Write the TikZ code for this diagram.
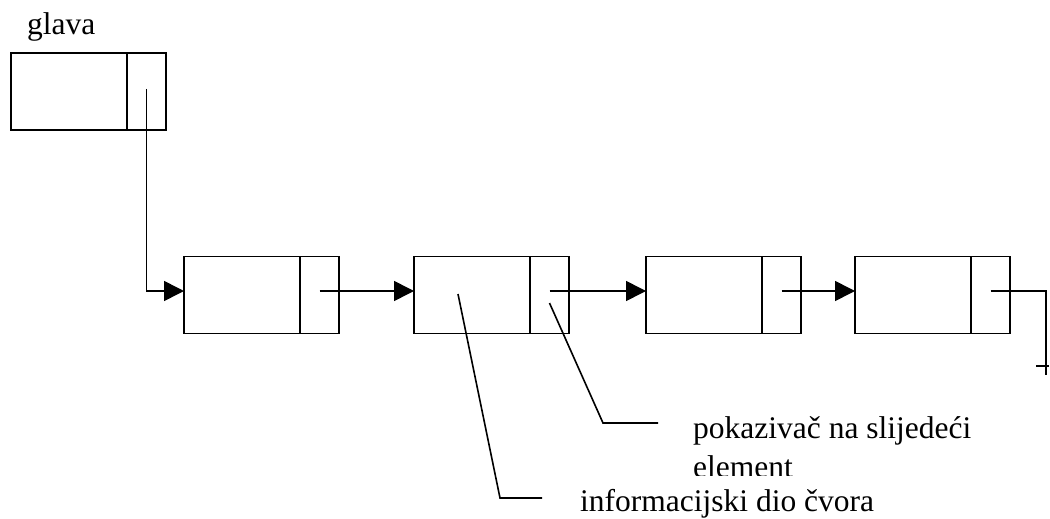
\documentclass[tikz,border=0pt]{standalone}
\usepackage{fontspec}
\setmainfont{Liberation Serif}
\usetikzlibrary{arrows.meta}
\begin{document}
\begin{tikzpicture}[x=1pt,y=-1pt,
  info/.style={draw, line width=1.8pt, minimum width=116pt, minimum height=77pt,
    inner sep=0pt, outer sep=0pt, anchor=west},
  cell/.style={draw, line width=1.8pt, minimum width=39pt, minimum height=77pt,
    inner sep=0pt, outer sep=0pt, anchor=west},
  link/.style={line width=1.6pt, -{Triangle[length=20pt,width=20pt]}},
  leader/.style={line width=1.6pt},
  lab/.style={font=\fontsize{31.5}{38}\selectfont, inner sep=0pt, anchor=base west}]
\useasboundingbox (0,0) rectangle (1050,519);

% head pointer
\node[lab] (glava) at (27,35) {glava};
\node[info] (h) at (11,91.5) {};
\node[cell] (hp) at (h.east) {};

% list nodes: information part + pointer cell
\node[info] (n1) at (184,295) {};
\node[cell] (n1p) at (n1.east) {};
\node[info] (n2) at (414,295) {};
\node[cell] (n2p) at (n2.east) {};
\node[info] (n3) at (646,295) {};
\node[cell] (n3p) at (n3.east) {};
\node[info] (n4) at (855,295) {};
\node[cell] (n4p) at (n4.east) {};

% links
\draw[link] ([yshift=2.5pt]hp.center) |- ([yshift=4pt]n1.west);
\draw[link] ([yshift=4pt]n1p.center) -- ([yshift=4pt]n2.west);
\draw[link] ([yshift=4pt]n2p.center) -- ([yshift=4pt]n3.west);
\draw[link] ([yshift=4pt]n3p.center) -- ([yshift=4pt]n4.west);

% end of list
\coordinate (tail) at (1046,375);
\draw[line width=2.4pt] ([yshift=4pt]n4p.center) -| (tail);
\draw[line width=1.6pt] ([xshift=-10pt,yshift=9pt]tail) -- ([xshift=3pt,yshift=9pt]tail);

% labels
\node[lab] (infolab) at (580,511) {informacijski dio čvora};
\node[lab] (ptrlab) at (693,438) {pokazivač na slijedeći};
\begin{scope}
  \clip (600,400) rectangle (1050,475.5);
  \node[lab] (ptrlab2) at (693,477) {element};
\end{scope}

% leader lines
\coordinate (b1) at (500,498);
\draw[leader] ([xshift=-14pt,yshift=1pt]n2.center) -- (b1) -- ([xshift=-38pt]infolab.west |- b1);
\coordinate (b2) at (603,423);
\draw[leader] ([yshift=-8pt]n2p.center) -- (b2) -- ([xshift=-35pt]ptrlab.west |- b2);
\end{tikzpicture}
\end{document}
